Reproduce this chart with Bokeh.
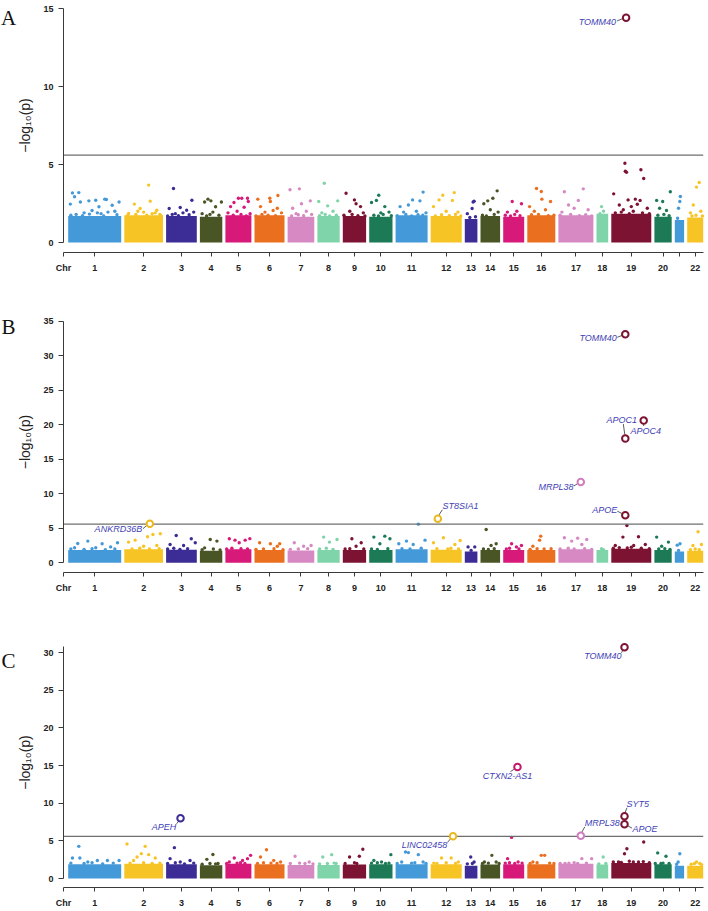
from bokeh.plotting import figure
from bokeh.models import FixedTicker, Label, Range1d
from bokeh.layouts import column
from bokeh.embed import file_html
from bokeh.resources import INLINE

# ---------------- data ----------------
CHROMS = ["1", "2", "3", "4", "5", "6", "7", "8", "9", "10", "11",
          "12", "13", "14", "15", "16", "17", "18", "19", "20", "21", "22"]
# relative number of SNPs per chromosome (width of each block on the axis)
CHR_SIZE = [53, 38.7, 30.7, 22.4, 26, 30, 26.7, 22.3, 23.3, 23.3, 32,
            31, 12.6, 19.6, 21, 28, 35, 11.7, 40, 17.3, 9.3, 16]
PALETTE = ["#4499D9", "#F7C425", "#3C2C96", "#4A5526", "#D7197A",
           "#EA7020", "#D689C2", "#80D4AA", "#7D1332", "#1D7A57"]
THRESHOLD = 5.6

# upper edge of the dense (saturated) cloud of SNPs per chromosome
A_BAND = [1.7, 1.75, 1.7, 1.65, 1.75, 1.75, 1.65, 1.7, 1.7, 1.65, 1.75,
          1.7, 1.5, 1.7, 1.65, 1.75, 1.75, 1.85, 1.85, 1.65, 1.45, 1.6]
B_BAND = [1.85, 1.95, 1.9, 1.75, 1.95, 1.85, 1.8, 1.85, 1.85, 1.85, 1.95,
          1.9, 1.65, 1.85, 1.85, 1.85, 1.95, 1.85, 2.05, 1.85, 1.65, 1.75]
C_BAND = [1.9, 1.95, 1.9, 1.75, 1.95, 1.9, 1.8, 1.8, 1.85, 1.9, 1.9,
          1.9, 1.7, 1.85, 1.9, 1.9, 1.95, 1.85, 2.05, 1.9, 1.7, 1.7]

# scattered SNPs above the dense cloud: chromosome, relative position, -log10(p)
A_CHR = [1]*24 + [2]*15 + [3]*12 + [4]*10 + [5]*13 + [6]*13 + [7]*11 + [8]*10 + [9]*10 + [10]*10 + \
        [11]*13 + [12]*12 + [13]*6 + [14]*9 + [15]*8 + [16]*11 + [17]*12 + [18]*3 + [19]*20 + \
        [20]*8 + [21]*4 + [22]*8
A_POS = [.08, .2, .12, .39, .52, .69, .72, .96, .23, .04, .83, .58, .3, .45, .62, .88, .15, .75,
         .05, .27, .4, .67, .92, .55,
         .63, .67, .26, .41, .84, .11, .5, .72, .35, .92, .08, .3, .58, .8, .95,
         .24, .84, .1, .46, .67, .55, .3, .9, .05, .2, .4, .75,
         .36, .49, .96, .21, .7, .1, .58, .3, .45, .85,
         .33, .5, .63, .85, .88, .2, .72, .1, .45, .3, .6, .8, .95,
         .11, .51, .53, .78, .2, .76, .35, .9, .62, .05, .25, .45, .7,
         .09, .44, .85, .52, .19, .7, .32, .15, .4, .6, .9,
         .31, .06, .91, .46, .7, .2, .1, .35, .55, .85,
         .14, .5, .57, .76, .3, .88, .05, .4, .65, .95,
         .41, .31, .1, .67, .85, .5, .2, .4, .6, .95,
         .86, .53, .76, .14, .4, .25, .65, .95, .05, .32, .5, .7, .85,
         .39, .76, .27, .7, .09, .5, .88, .15, .35, .6, .8, .97,
         .74, .58, .66, .2, .4, .85,
         .85, .63, .17, .37, .5, .9, .1, .3, .7,
         .43, .87, .2, .65, .1, .35, .55, .8,
         .33, .5, .52, .83, .08, .65, .25, .15, .4, .75, .95,
         .17, .71, .57, .29, .45, .85, .1, .05, .35, .6, .78, .95,
         .43, .6, .3,
         .34, .35, .38, .74, .81, .06, .42, .6, .72, .2, .5, .9, .3, .65,
         .1, .25, .45, .55, .78, .95,
         .92, .13, .48, .3, .7, .2, .55, .85,
         .6, .54, .4, .3,
         .75, .58, .38, .2, .85, .3, .55, .95]
A_VAL = [3.18, 3.2, 2.93, 2.67, 2.71, 2.78, 2.76, 2.6, 2.6, 2.46, 2.39, 2.29, 1.9, 2.05, 1.85, 2.0, 1.8, 1.95,
         1.75, 1.72, 1.82, 1.7, 1.78, 1.9,
         3.68, 2.65, 2.46, 2.18, 2.07, 1.86, 1.95, 1.85, 2.0, 1.8, 1.72, 1.8, 1.75, 1.9, 1.7,
         3.46, 2.71, 2.18, 2.24, 2.07, 1.9, 1.85, 1.95, 1.7, 1.8, 1.72, 1.78,
         2.78, 2.67, 2.6, 2.6, 2.29, 1.85, 1.95, 1.7, 1.8, 1.75,
         2.56, 2.84, 2.84, 2.84, 2.63, 2.3, 2.26, 1.9, 2.0, 1.75, 1.8, 1.7, 1.85,
         2.78, 2.84, 2.63, 3.01, 2.3, 2.2, 1.95, 1.9, 2.05, 1.7, 1.8, 1.75, 1.72,
         3.38, 3.44, 2.67, 2.48, 2.2, 2.0, 1.85, 1.7, 1.78, 1.72, 1.8,
         3.8, 2.63, 2.67, 2.35, 2.0, 1.9, 1.72, 1.8, 1.7, 1.75,
         3.16, 2.73, 2.48, 2.3, 2.0, 1.9, 1.75, 1.8, 1.72, 1.7,
         3.03, 2.7, 2.56, 2.3, 1.95, 1.9, 1.75, 1.7, 1.8, 1.72,
         3.23, 2.73, 2.67, 2.3, 2.4, 1.95, 2.0, 1.9, 1.72, 1.8, 1.7, 1.78, 1.75,
         3.03, 3.2, 2.73, 2.7, 2.3, 2.0, 1.95, 1.7, 1.78, 1.72, 1.8, 1.7,
         2.65, 2.18, 2.6, 1.85, 1.6, 1.65,
         3.31, 2.84, 2.48, 2.67, 2.1, 1.95, 1.75, 1.7, 1.8,
         2.63, 2.48, 1.95, 2.0, 1.75, 1.7, 1.8, 1.72,
         3.46, 3.27, 2.78, 2.63, 2.3, 2.1, 2.0, 1.78, 1.8, 1.72, 1.75,
         3.25, 3.44, 2.7, 2.4, 2.2, 2.1, 1.95, 1.75, 1.8, 1.72, 1.78, 1.7,
         2.3, 2.0, 1.85,
         5.08, 4.57, 4.5, 4.66, 4.1, 3.12, 2.73, 2.78, 2.7, 2.4, 2.3, 2.2, 2.1, 2.45,
         1.9, 1.95, 1.85, 2.0, 1.9, 1.85,
         3.25, 2.7, 2.63, 2.2, 2.05, 1.75, 1.8, 1.72,
         2.95, 2.63, 2.2, 1.55,
         3.85, 3.55, 2.4, 1.9, 2.0, 1.7, 1.75, 1.7]

B_CHR = [1]*12 + [2]*11 + [3]*9 + [4]*6 + [5]*9 + [6]*8 + [7]*6 + [8]*6 + [9]*6 + [10]*7 + \
        [11]*8 + [12]*8 + [13]*3 + [14]*6 + [15]*6 + [16]*7 + [17]*10 + [18]*2 + [19]*12 + \
        [20]*6 + [21]*3 + [22]*6
B_POS = [.18, .37, .64, .93, .12, .52, .8, .05, .3, .45, .7, .88,
         .11, .28, .6, .74, .93, .5, .84, .2, .4, .65, .9,
         .33, .82, .13, .57, .95, .05, .25, .45, .7,
         .46, .76, .21, .1, .6, .9,
         .15, .37, .76, .94, .53, .05, .25, .6, .85,
         .17, .53, .84, .76, .05, .3, .65, .95,
         .25, .6, .88, .1, .4, .75,
         .28, .88, .54, .1, .4, .7,
         .39, .79, .57, .1, .3, .9,
         .2, .67, .89, .46, .1, .35, .8,
         .1, .34, .71, .92, .55, .2, .45, .8,
         .41, .09, .95, .78, .2, .55, .65, .9,
         .26, .79, .5,
         .29, .54, .8, .15, .4, .7,
         .4, .63, .87, .15, .3, .75,
         .48, .44, .2, .1, .35, .6, .85,
         .17, .55, .81, .38, .67, .05, .28, .45, .75, .95,
         .43, .6,
         .39, .29, .68, .1, .56, .85, .05, .2, .4, .5, .75, .95,
         .13, .81, .42, .25, .6, .9,
         .26, .56, .4,
         .68, .36, .89, .2, .5, .75]
B_VAL = [2.8, 3.14, 2.75, 2.9, 2.17, 2.17, 2.3, 2.0, 1.95, 2.05, 1.9, 2.0,
         3.0, 3.28, 3.77, 4.1, 4.2, 2.4, 2.5, 2.0, 2.1, 2.0, 2.05,
         3.96, 3.48, 2.66, 2.5, 2.9, 2.0, 2.1, 1.95, 2.05,
         3.38, 3.14, 2.17, 1.9, 2.0, 1.85,
         3.48, 3.28, 3.28, 3.5, 2.9, 2.0, 2.1, 2.05, 2.0,
         2.9, 2.75, 2.75, 2.4, 1.95, 2.0, 2.05, 1.9,
         2.9, 2.4, 2.5, 1.95, 2.0, 2.05,
         3.72, 3.38, 3.0, 2.0, 2.1, 1.95,
         3.48, 2.9, 2.4, 2.0, 2.05, 2.0,
         3.72, 3.86, 3.48, 2.75, 2.0, 1.95, 2.05,
         2.75, 3.14, 5.6, 3.28, 2.66, 2.05, 2.0, 2.1,
         3.62, 2.9, 3.24, 2.66, 2.05, 2.0, 2.1, 2.0,
         2.3, 2.3, 1.8,
         4.83, 2.5, 2.75, 2.0, 1.95, 2.05,
         2.75, 2.3, 2.5, 2.0, 2.1, 2.0,
         3.86, 3.28, 2.4, 1.95, 2.05, 2.0, 2.05,
         3.62, 3.57, 3.38, 3.14, 2.66, 2.0, 2.1, 2.0, 2.05, 1.95,
         2.03, 1.9,
         5.4, 3.72, 3.77, 2.5, 2.5, 2.66, 2.1, 2.2, 2.15, 2.25, 2.1, 2.05,
         3.72, 3.0, 2.4, 2.0, 2.05, 1.95,
         2.56, 2.75, 1.8,
         4.5, 2.5, 2.66, 1.9, 2.0, 1.9]

C_CHR = [1]*12 + [2]*11 + [3]*8 + [4]*6 + [5]*9 + [6]*8 + [7]*6 + [8]*6 + [9]*6 + [10]*7 + \
        [11]*9 + [12]*7 + [13]*4 + [14]*6 + [15]*7 + [16]*7 + [17]*8 + [18]*3 + [19]*11 + \
        [20]*6 + [21]*3 + [22]*5
C_POS = [.2, .08, .22, .55, .74, .96, .37, .05, .3, .45, .65, .85,
         .07, .54, .44, .63, .8, .24, .33, .15, .5, .72, .92,
         .27, .13, .46, .78, .05, .3, .6, .9,
         .58, .31, .81, .1, .45, .7,
         .34, .66, .97, .15, .85, .05, .45, .58, .75,
         .4, .2, .64, .87, .1, .3, .55, .75,
         .28, .81, .1, .45, .65, .95,
         .24, .64, .84, .1, .45, .75,
         .86, .71, .29, .1, .5, .6,
         .2, .93, .53, .1, .35, .7, .85,
         .31, .4, .71, .19, .86, .05, .5, .6, .95,
         .35, .66, .89, .1, .2, .5, .8,
         .47, .74, .2, .6,
         .58, .2, .8, .1, .4, .95,
         .4, .21, .71, .1, .3, .55, .9,
         .5, .62, .2, .1, .35, .8, .95,
         .19, .67, .95, .05, .3, .45, .55, .8,
         .57, .2, .8,
         .39, .33, .81, .18, .68, .05, .25, .45, .55, .8, .95,
         .19, .67, .38, .05, .5, .85,
         .54, .36, .2,
         .58, .79, .25, .45, .9]
C_VAL = [4.27, 2.73, 2.73, 2.4, 2.4, 2.4, 2.2, 2.05, 2.0, 2.1, 1.95, 2.05,
         4.58, 4.27, 3.3, 3.17, 2.73, 2.4, 2.86, 2.05, 2.1, 2.0, 2.05,
         4.1, 2.64, 2.2, 2.4, 2.0, 2.1, 1.95, 2.05,
         3.2, 2.55, 2.0, 1.9, 2.0, 1.95,
         2.73, 2.4, 3.08, 2.2, 2.64, 2.0, 2.05, 2.1, 2.0,
         3.83, 2.86, 2.4, 2.2, 2.0, 2.1, 2.05, 2.0,
         2.95, 2.2, 2.0, 2.05, 2.0, 1.95,
         2.86, 3.17, 2.0, 1.95, 2.0, 2.05,
         3.88, 2.95, 2.86, 2.0, 2.1, 2.0,
         2.4, 3.17, 2.2, 2.05, 2.1, 2.0, 2.05,
         3.52, 3.44, 3.17, 2.2, 2.2, 2.0, 2.05, 2.1, 2.0,
         2.73, 2.73, 2.2, 2.05, 2.0, 2.1, 2.0,
         2.86, 2.2, 1.95, 2.0,
         3.08, 2.2, 2.2, 2.0, 2.05, 2.0,
         5.46, 2.64, 2.2, 2.05, 2.1, 2.0, 2.05,
         3.08, 3.08, 2.2, 2.0, 2.1, 2.05, 2.0,
         2.0, 2.64, 2.64, 2.0, 2.05, 2.1, 2.0, 2.05,
         2.86, 1.95, 2.0,
         3.96, 3.3, 4.85, 2.2, 2.2, 2.2, 2.15, 2.3, 2.2, 2.25, 2.1,
         3.4, 2.95, 2.0, 2.0, 2.05, 2.0,
         3.3, 2.2, 1.9,
         2.2, 2.0, 1.9, 2.0, 1.85]

# annotated lead SNPs
A_GENE = ["TOMM40"]
A_GCHR = [19]
A_GPOS = [.37]
A_GVAL = [14.4]

B_GENE = ["TOMM40", "APOC1", "APOC4", "MRPL38", "APOE", "ST8SIA1", "ANKRD36B"]
B_GCHR = [19, 19, 19, 17, 19, 12, 2]
B_GPOS = [.35, .35, .81, .64, .35, .23, .66]
B_GVAL = [33.1, 18.0, 20.6, 11.7, 6.9, 6.38, 5.65]

C_GENE = ["TOMM40", "CTXN2-AS1", "SYT5", "APOE", "MRPL38", "LINC02458", "APEH"]
C_GCHR = [19, 15, 19, 19, 17, 12, 3]
C_GPOS = [.33, .68, .33, .33, .64, .72, .47]
C_GVAL = [30.7, 14.8, 8.28, 7.22, 5.68, 5.6, 8.0]

# ---------------- styling / layout (pixels) ----------------
# label offset (dx, dy, align) and leader line (x0, y0, x1, y1), screen px from the SNP
A_LAB = [(-10, 4, "right", -9, 3, -4, 1)]
B_LAB = [(-8.5, 4, "right", -8, 3, -3, 1),
         (-3.5, -19, "center", -2, -14.5, -0.5, -4),
         (2, 10, "center", 0, 3.5, 0, 5.5),
         (-7.3, 5, "right", -7, 4, -3, 1.5),
         (-8, -4.7, "right", -8, -4, -3, -1.5),
         (4.7, -12.6, "left", 1, -3.5, 4.5, -9),
         (-7.7, 5.7, "right", -7, 5, -3, 1.5)]
C_LAB = [(-3, 9, "right", -3, 5.5, -2, 3.5),
         (-10, 9, "center", -7, 4.5, -3, 2),
         (2, -12.6, "left", 0.5, -3.5, 2.5, -8.5),
         (8, 5, "left", 3, 1.5, 7.5, 4),
         (4, -12.7, "left", 1, -3.5, 4, -9),
         (-5.7, 8.3, "right", -5.5, 6, -2.5, 2.5),
         (-4.3, 9, "right", -4, 5.5, -2, 3)]

GAP = 3.1
W, BR = 706, 2
AXIS_PX = 63                 # screen x of the y axis
X0 = -4.7                    # axis start ("Chr" tick)
X1 = X0 + (W - BR - AXIS_PX)  # right end of frame (1 unit = 1 px)
XL = X0 - AXIS_PX            # left end of frame
SX = (W - BR) / (X1 - XL)

STARTS = []
acc = 0.0
for s in CHR_SIZE:
    STARTS.append(acc)
    acc += s + GAP
ENDS = [a + s for a, s in zip(STARTS, CHR_SIZE)]
CENTERS = [(a + b) / 2 for a, b in zip(STARTS, ENDS)]
COLORS = [PALETTE[i % 10] for i in range(22)]
HIT_COLORS = {19: "#7D1332", 2: "#EBB81E", 12: "#EBB81E", 17: "#D27DBD",
              3: "#3C2C96", 15: "#C4176E"}

LABEL_COLOR = "#3E3EB5"
FONT = "Liberation Sans"


def xpos(c, f):
    return STARTS[c - 1] + f * CHR_SIZE[c - 1]


def panel(letter, letter_dy, H, BB, Y0, Y1, ytop, ybound, band,
          pchr, ppos, pval, genes, gchr, gpos, gval, labs):
    FH = H - BB
    SY = FH / (Y1 - Y0)
    p = figure(width=W, height=H, x_range=Range1d(XL, X1), y_range=Range1d(Y0, Y1),
               output_backend="svg", toolbar_location=None,
               min_border_left=0, min_border_right=BR,
               min_border_top=0, min_border_bottom=BB)
    p.grid.visible = False
    p.outline_line_color = None

    # axes
    xt = [round(X0, 3)] + [round(c, 3) for c in CENTERS]
    over = {xt[0]: "Chr"}
    for i, c in enumerate(CENTERS):
        over[round(c, 3)] = "" if CHROMS[i] == "21" else CHROMS[i]
    p.xaxis.ticker = FixedTicker(ticks=xt)
    p.xaxis.major_label_overrides = over
    p.xaxis.bounds = (X0, ENDS[-1])
    p.yaxis.ticker = FixedTicker(ticks=list(range(0, ytop + 1, 5)))
    p.yaxis.bounds = (0, ybound)
    p.yaxis.fixed_location = X0
    for ax in (p.xaxis, p.yaxis):
        ax.axis_line_color = "#3a3a3a"
        ax.major_tick_line_color = "#3a3a3a"
        ax.minor_tick_line_color = None
        ax.major_tick_out = 5
        ax.major_tick_in = 0
        ax.major_label_text_font = FONT
        ax.major_label_text_font_style = "bold"
        ax.major_label_text_font_size = "9px"
        ax.major_label_text_color = "#222222"
        ax.major_label_standoff = 5
    p.xaxis.major_tick_out = 4
    p.xaxis.major_label_standoff = 6
    p.yaxis.axis_label = "\u2212log\u2081\u2080(p)"
    p.yaxis.axis_label_text_font = FONT
    p.yaxis.axis_label_text_font_style = "normal"
    p.yaxis.axis_label_text_font_size = "14px"
    p.yaxis.axis_label_text_color = "#222222"
    p.yaxis.axis_label_standoff = 7

    # dense cloud
    p.quad(left=STARTS, right=ENDS, bottom=0, top=band, fill_color=COLORS, line_color=None)
    # scattered SNPs
    xs = [xpos(c, f) for c, f in zip(pchr, ppos)]
    cs = [COLORS[c - 1] for c in pchr]
    p.scatter(xs, pval, size=3.4, fill_color=cs, line_color=None)

    # genome-wide threshold
    p.line([X0, ENDS[-1]], [THRESHOLD, THRESHOLD], line_color="#6e6e6e", line_width=1.2)

    # lead SNPs
    gx = [xpos(c, f) for c, f in zip(gchr, gpos)]
    lx0, ly0, lx1, ly1 = [], [], [], []
    for x, y, g, lab in zip(gx, gval, genes, labs):
        dx, dy, al, a0, b0, a1, b1 = lab
        lx0.append(x + a0 / SX); ly0.append(y - b0 / SY)
        lx1.append(x + a1 / SX); ly1.append(y - b1 / SY)
        p.add_layout(Label(x=x + dx / SX, y=y - dy / SY, text=g, text_align=al,
                           text_baseline="middle", text_font=FONT, text_font_style="italic",
                           text_font_size="9px", text_color=LABEL_COLOR))
    p.segment(lx0, ly0, lx1, ly1, line_color="#333333", line_width=0.8)
    p.scatter(gx, gval, size=6.5, fill_color="white",
              line_color=[HIT_COLORS[c] for c in gchr], line_width=2)

    p.add_layout(Label(x=XL + 8 / SX, y=ytop - letter_dy / SY, text=letter,
                       text_align="center", text_baseline="middle",
                       text_font="Liberation Serif", text_font_size="21px",
                       text_color="#111111"))
    return p


pa = panel("A", 9, 289, 37, -0.641, 15.513, 15, 15, A_BAND,
           A_CHR, A_POS, A_VAL, A_GENE, A_GCHR, A_GPOS, A_GVAL, A_LAB)
pb = panel("B", 5.8, 310, 27, -1.405, 39.59, 35, 35, B_BAND,
           B_CHR, B_POS, B_VAL, B_GENE, B_GCHR, B_GPOS, B_GVAL, B_LAB)
pc = panel("C", 8.4, 311, 22, -1.191, 37.05, 30, 30.8, C_BAND,
           C_CHR, C_POS, C_VAL, C_GENE, C_GCHR, C_GPOS, C_GVAL, C_LAB)

layout = column(pa, pb, pc)
open("out.html", "w").write(file_html(layout, INLINE))
